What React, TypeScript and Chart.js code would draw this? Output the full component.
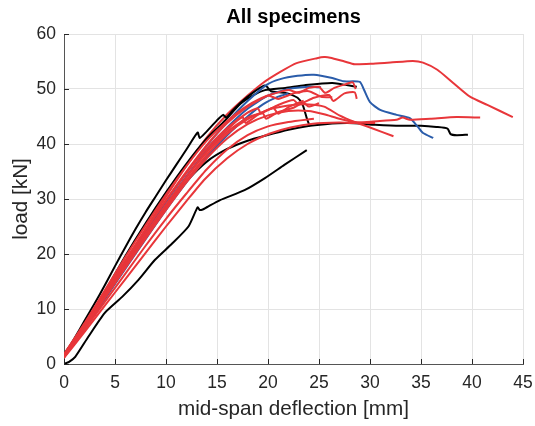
import React, { useEffect, useRef } from "react";
import { Chart, registerables } from "chart.js";

Chart.register(...registerables);

type P = [number, number];

const xTicks = [0, 5, 10, 15, 20, 25, 30, 35, 40, 45];
const yTicks = [0, 10, 20, 30, 40, 50, 60];

// Red specimens
const red1: P[] = [[0,1.5],[2,6.8],[4,12.6],[6,18.6],[8,24.6],[10,30.4],[12,36],[14,41.2],[16,45.4],[18,48.8],[19.5,51.1],[21.2,53.1],[22.8,54.7],[24.8,55.6],[25.5,55.8],[26.1,55.7],[27.5,55],[28.5,54.5],[30.3,54.6],[32,54.8],[34.2,55.1],[35.2,54.8],[36.6,53.5],[38.1,51.2],[39.8,48.6],[41.5,47.1],[44,44.9]];
const red2: P[] = [[0,1.1],[2,5.8],[4,10.6],[6,15.4],[8,20.2],[10,25],[12,29.6],[13.8,33.6],[16,37.4],[18,40],[20.2,41.9],[22.2,43],[24.4,43.7],[27,43.9],[28.3,43.8],[30.3,44.1],[32.6,44.4],[33.2,44.8],[33.9,44.4],[35.9,44.6],[38.5,44.9],[40.8,44.8]];
const red3: P[] = [[0,1.5],[2,6.8],[4,12.3],[6,17.8],[8,23.2],[10,28.4],[12,33.4],[14,38],[16,41.8],[18,44.5],[20,46.2],[22,47],[24,47.2],[25.5,46.8],[27,45.2],[28.5,44],[30,43],[32.3,41.4]];
const red4: P[] = [[0,1.7],[2,7.2],[4,13],[6,18.8],[8,24.4],[10,29.7],[12,34.7],[14,39.2],[16,42.9],[18,45.7],[19,46.5],[19.3,45.6],[21,47.1],[22.5,48],[23,47.2],[24.5,48.4],[26,48.9],[26.4,47.8],[27.5,49.2],[28.5,49.4],[28.7,48.2]];
const red5: P[] = [[0,1.4],[2,7],[4,12.8],[6,18.6],[8,24.3],[10,29.8],[12,35],[14,39.8],[16,43.8],[18,46.8],[20,48.8],[22,49.8],[23,49.3],[24,50.2],[25,50.4],[25.6,49.3],[26.5,50.2],[27.5,50.8],[28.3,51.2],[28.6,50]];
const red6: P[] = [[0,1.3],[2,6.5],[4,12],[6,17.4],[8,22.8],[10,28],[12,33],[14,37.4],[16,41],[18,43.6],[20,45.2],[22,46],[24,46],[25.5,45.4],[27,44.6],[28.5,44],[30.5,43.8]];
const red7: P[] = [[0,1.2],[2,6.2],[4,11.3],[6,16.4],[8,21.5],[10,26.4],[12,31],[14,35.4],[16,39],[18,41.6],[20,43.2],[22,44],[24.5,44.6]];
const red8: P[] = [[0,1.6],[2,7],[4,12.6],[6,18.2],[8,23.7],[10,29],[12,34],[14,38.5],[16,42.2],[18,44.8],[19.5,45.6],[19.8,44.6],[21,45.8],[22.5,46.6],[23.5,47.5],[24,46.8],[25,47.4]];
const red9: P[] = [[0,1.3],[2,6.6],[4,12.1],[6,17.6],[8,23.1],[10,28.6],[12,33.9],[14,38.7],[16,42.6],[17.5,44.9],[17.8,43.8],[19,45.3],[20.5,46.6],[21,45.5],[22,46.7],[23.5,47.9]];
const red10: P[] = [[0,1.8],[2,7.4],[4,13.4],[6,19.4],[8,25.2],[10,30.8],[12,36],[14,40.6],[16,44.2],[18,47],[20,48.8],[21,48.2],[22.5,49.2],[24,49.6],[25.2,48.6],[26.3,48.5]];

// Blue specimens
const blue1: P[] = [[0,1.5],[2,6.8],[4,12.5],[6,18.3],[8,24],[10,29.5],[12,34.8],[14,39.7],[16,44],[18,47.8],[19.9,50.8],[21.2,51.8],[22.9,52.4],[24.5,52.6],[26.3,52],[27.4,51.4],[29,51.3],[29.4,49.9],[30,47.6],[31,46.2],[32.6,45.3],[33.9,44.7],[34.7,43.1],[35.2,42],[36.2,41.1]];
const blue2: P[] = [[0,1.4],[2,6.6],[4,12.2],[6,17.9],[8,23.5],[10,28.9],[12,34.1],[14,38.9],[16,43],[18,46.4],[20,48.8],[22,50],[24,50.4],[25.2,50.3]];
const blue3: P[] = [[0,1.3],[2,6.3],[4,11.8],[6,17.3],[8,22.7],[10,28],[12,33],[14,37.6],[16,41.6],[18,45],[19.5,47.2],[21,48.6],[22,49.2]];

// Black specimens
const black1: P[] = [[0,1.5],[1,4.6],[2,7.8],[3,11],[4,14.3],[5,17.8],[6,21.2],[7,24.5],[8,27.6],[9,30.5],[10,33.4],[11,36.2],[12,39],[13.1,42.1],[13.3,41.1],[14,42.3],[15,44.3],[15.6,45.3],[15.9,44.8],[16.5,46],[17.5,47.8],[18.5,49.3],[19.6,50.6],[19.9,50.4],[20.3,49.6],[21.7,49.3],[22.9,48.4],[23.4,47.1],[23.8,44.7],[24.1,43.2]];
const black2: P[] = [[0,1.8],[2,7],[4,12.6],[6,18.2],[8,23.6],[10,28.6],[12,33.2],[14,36.8],[16,39.1],[18,40.6],[19.7,41.5],[22,42.6],[24.1,43.3],[25.6,43.6],[27.8,43.8],[30.5,43.5],[33,43.3],[35,43.3],[36.5,43.1],[37.6,42.8],[37.9,41.8],[38.5,41.6],[39.6,41.7]];
const black3: P[] = [[0,1.2],[2,6.9],[4,13.1],[6,19.6],[8,25.6],[10,31.2],[12,36.4],[14,41],[15.6,43.9],[17.3,47.3],[18.5,48.8],[19.7,49.8],[21.7,50.2],[23.6,50.7],[26.3,51.1],[28.7,50.4]];
const black4: P[] = [[0,0],[0.5,0.4],[1.1,1.3],[2.4,5],[4,9.3],[5.7,12.2],[7.3,15.3],[8.9,18.9],[10.6,21.9],[12.2,25],[13.1,28.5],[13.3,28],[13.6,28.1],[14,28.5],[15.3,29.8],[17.7,31.6],[19.7,33.8],[21.6,36.2],[23.8,38.9]];

const RED = "#e8363a";
const BLUE = "#2a5caa";
const BLACK = "#000000";

const series: { data: P[]; color: string }[] = [
  { data: red7, color: RED },
  { data: red2, color: RED },
  { data: red6, color: RED },
  { data: red3, color: RED },
  { data: red8, color: RED },
  { data: red9, color: RED },
  { data: red4, color: RED },
  { data: red5, color: RED },
  { data: red10, color: RED },
  { data: blue3, color: BLUE },
  { data: blue2, color: BLUE },
  { data: blue1, color: BLUE },
  { data: black2, color: BLACK },
  { data: black3, color: BLACK },
  { data: black1, color: BLACK },
  { data: red1, color: RED },
  { data: black4, color: BLACK },
];

const FONT = "'Liberation Sans', Arial, Helvetica, sans-serif";

const innerTicks = {
  id: "innerTicks",
  afterDraw(chart: any) {
    const { ctx, chartArea, scales } = chart;
    ctx.save();
    ctx.strokeStyle = "#262626";
    ctx.lineWidth = 1;
    ctx.beginPath();
    for (const v of xTicks) {
      const px = Math.round(scales.x.getPixelForValue(v)) + 0.5;
      ctx.moveTo(px, chartArea.bottom);
      ctx.lineTo(px, chartArea.bottom - 5);
    }
    for (const v of yTicks) {
      const py = Math.round(scales.y.getPixelForValue(v)) + 0.5;
      ctx.moveTo(chartArea.left, py);
      ctx.lineTo(chartArea.left + 5, py);
    }
    ctx.stroke();
    ctx.restore();
  },
};

export default function App() {
  const ref = useRef<HTMLCanvasElement | null>(null);
  useEffect(() => {
    if (!ref.current) return;
    Chart.defaults.font.family = FONT;
    const chart = new Chart(ref.current, {
      type: "scatter",
      data: {
        datasets: series.map((s) => ({
          data: s.data.map(([x, y]) => ({ x, y })),
          showLine: true,
          borderColor: s.color,
          backgroundColor: s.color,
          borderWidth: 2,
          pointRadius: 0,
          tension: 0.2,
          fill: false,
        })),
      },
      options: {
        animation: false,
        responsive: false,
        maintainAspectRatio: false,
        layout: { padding: { left: 0, right: 12, top: 0, bottom: 0 } },
        plugins: {
          legend: { display: false },
          tooltip: { enabled: false },
          title: {
            display: true,
            fullSize: false,
            text: "All specimens",
            color: "#000000",
            font: { size: 20, weight: "bold", family: FONT },
            padding: { top: 5, bottom: 5 },
          },
        },
        scales: {
          x: {
            type: "linear",
            min: 0,
            max: 45,
            afterBuildTicks: (scale: any) => {
              scale.ticks = xTicks.map((v) => ({ value: v }));
            },
            afterFit: (scale: any) => {
              scale.height = 62;
              scale.paddingRight = 0;
              scale.paddingLeft = 0;
            },
            grid: { color: "#e3e3e3", drawTicks: false, lineWidth: 1 },
            border: { display: true, color: "#555555", width: 1 },
            ticks: { color: "#262626", font: { size: 17.5 }, padding: 9, maxRotation: 0 },
            title: {
              display: true,
              text: "mid-span deflection [mm]",
              color: "#262626",
              font: { size: 20.7 },
              padding: { top: 0, bottom: 4 },
            },
          },
          y: {
            type: "linear",
            min: 0,
            max: 60,
            afterBuildTicks: (scale: any) => {
              scale.ticks = yTicks.map((v) => ({ value: v }));
            },
            afterFit: (scale: any) => {
              scale.width = 64;
              scale.paddingTop = 0;
              scale.paddingBottom = 0;
            },
            grid: { color: "#e3e3e3", drawTicks: false, lineWidth: 1 },
            border: { display: true, color: "#555555", width: 1 },
            ticks: { color: "#262626", font: { size: 17.5 }, padding: 8 },
            title: {
              display: true,
              text: "load [kN]",
              color: "#262626",
              font: { size: 20.7 },
              padding: { top: 9, bottom: 0 },
            },
          },
        },
      },
      plugins: [innerTicks],
    });
    return () => chart.destroy();
  }, []);
  return (
    <div style={{ position: "fixed", left: 0, top: 0, width: 535, height: 426, background: "#fff" }}>
      <canvas ref={ref} width={535} height={426} style={{ width: 535, height: 426 }} />
    </div>
  );
}
